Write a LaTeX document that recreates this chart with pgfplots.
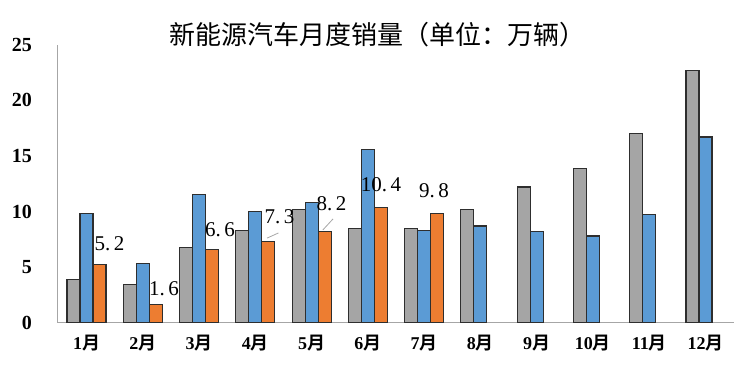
\documentclass[border=0pt]{standalone}
\usepackage{pgfplots}
\pgfplotsset{compat=1.18}
\usepackage{fontspec}
\setmainfont{Liberation Serif}
\newfontfamily\cjk{Noto Sans CJK SC}
\newfontfamily\cjkb{Noto Sans CJK SC}[BoldFont={Noto Sans CJK SC Bold}]
\definecolor{gbar}{HTML}{A5A5A5}
\definecolor{bbar}{HTML}{5B9BD5}
\definecolor{obar}{HTML}{ED7D31}
\definecolor{edge}{HTML}{2E2E2E}
\newcommand{\dl}[2]{#1.\hspace{3.5pt}#2}
\begin{document}
\begin{tikzpicture}[x=1pt,y=1pt]
\useasboundingbox (0,0) rectangle (744,375);
\node[font=\cjk\fontsize{26}{30}\selectfont] at (377,340) {新能源汽车月度销量（单位：万辆）};
\begin{axis}[
  at={(57.5pt,52.3pt)}, anchor=south west,
  scale only axis, width=676.5pt, height=278pt,
  xmin=0.4846, xmax=12.506, ymin=0, ymax=25,
  ybar, bar width=13pt,
  axis x line*=bottom, axis y line*=left,
  axis line style={-, draw=gray!70, line width=1.2pt},
  xtick={1,...,12},
  xticklabels={1\cjkb 月,2\cjkb 月,3\cjkb 月,4\cjkb 月,5\cjkb 月,6\cjkb 月,7\cjkb 月,8\cjkb 月,9\cjkb 月,10\cjkb 月,11\cjkb 月,12\cjkb 月},
  ytick={0,5,10,15,20,25},
  major tick length=0pt,
  xticklabel style={font=\bfseries\fontsize{18}{20}\selectfont, yshift=-9pt},
  yticklabel style={font=\bfseries\fontsize{20}{22}\selectfont, anchor=east, xshift=-22pt},
  /pgf/number format/assume math mode=true,
  clip=false,
]
\addplot[bar shift=-13pt, fill=gbar, draw=edge, line width=1.1pt] coordinates {
(1,3.9) (2,3.45) (3,6.8) (4,8.3) (5,10.2) (6,8.5) (7,8.5) (8,10.2) (9,12.2) (10,13.9) (11,17.0) (12,22.7)};
\addplot[bar shift=0pt, fill=bbar, draw=edge, line width=1.1pt] coordinates {
(1,9.8) (2,5.3) (3,11.5) (4,10.0) (5,10.8) (6,15.6) (7,8.3) (8,8.7) (9,8.2) (10,7.8) (11,9.7) (12,16.7)};
\addplot[bar shift=13pt, fill=obar, draw=edge, line width=1.1pt] coordinates {
(1,5.2) (2,1.6) (3,6.6) (4,7.3) (5,8.2) (6,10.4) (7,9.8)};
\draw[gray!70, line width=0.8pt] (axis cs:4.21,7.61) -- (axis cs:4.41,8.07);
\draw[gray!70, line width=0.8pt] (axis cs:5.20,8.34) -- (axis cs:5.38,9.33);
\begin{scope}[every node/.style={font=\fontsize{21}{23}\selectfont, inner sep=0pt}]
\node at (axis cs:1.41,7.08) {\dl{5}{2}};
\node at (axis cs:2.377,3.03) {\dl{1}{6}};
\node at (axis cs:3.373,8.34) {\dl{6}{6}};
\node at (axis cs:4.43,9.5) {\dl{7}{3}};
\node at (axis cs:5.354,10.67) {\dl{8}{2}};
\node at (axis cs:6.234,12.38) {\dl{10}{4}};
\node at (axis cs:7.176,11.89) {\dl{9}{8}};
\end{scope}
\end{axis}
\end{tikzpicture}
\end{document}
